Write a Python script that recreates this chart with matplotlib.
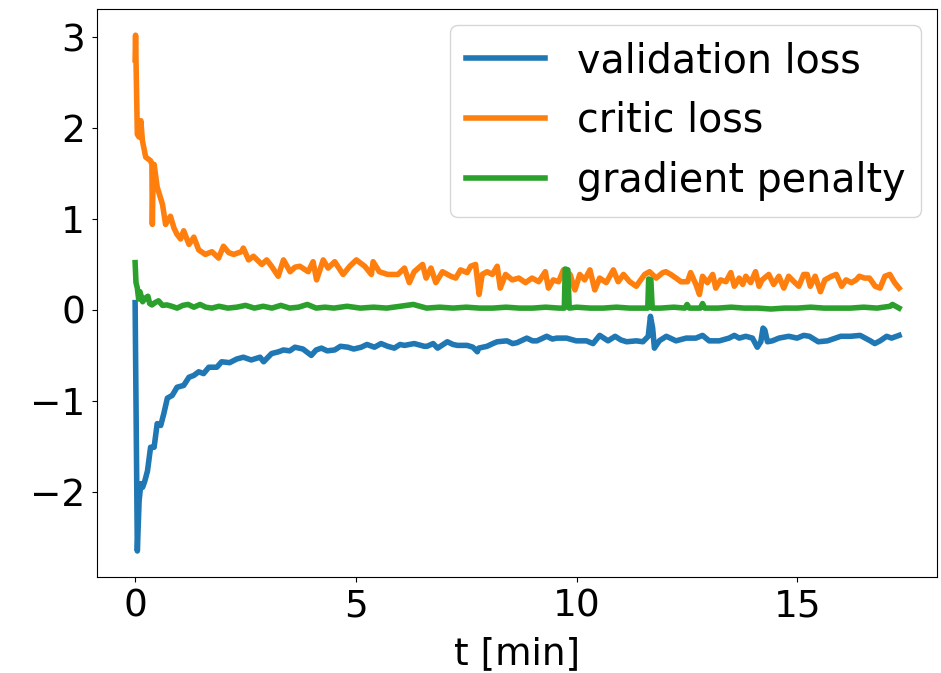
import numpy as np
import matplotlib
matplotlib.use('Agg')
import matplotlib.pyplot as plt

# validation loss
t_val = [0, 0.05, 0.09, 0.13, 0.17, 0.22, 0.28, 0.35, 0.43, 0.50, 0.58, 0.65, 0.73, 0.84, 0.95,
         1.10, 1.22, 1.33, 1.44, 1.55, 1.67, 1.85, 1.96, 2.14, 2.30, 2.45, 2.63, 2.83, 2.91, 3.09,
         3.25, 3.36, 3.50, 3.62, 3.80, 3.99, 4.10, 4.22, 4.35, 4.52, 4.65, 4.82, 4.95, 5.12, 5.25,
         5.42, 5.57, 5.72, 5.87, 6.00, 6.10, 6.32, 6.55, 6.61, 6.75, 6.85, 7.07, 7.20, 7.30, 7.52,
         7.65, 7.75, 7.78, 7.97, 8.10, 8.20, 8.42, 8.55, 8.65, 8.87, 9.00, 9.10, 9.32, 9.45, 9.55,
         9.77, 9.99, 10.22, 10.37, 10.52, 10.71, 10.87, 11.00, 11.13, 11.35, 11.50, 11.62, 11.67,
         11.72, 11.76, 11.87, 12.03, 12.25, 12.48, 12.70, 12.85, 13.00, 13.23, 13.45, 13.57, 13.68,
         13.83, 13.98, 14.09, 14.17, 14.22, 14.26, 14.32, 14.43, 14.58, 14.80, 14.99, 15.14, 15.27,
         15.47, 15.68, 15.98, 16.20, 16.42, 16.65, 16.75, 16.87, 17.02, 17.13, 17.30]
val_loss = [0.08, -2.65, -2.10, -1.91, -1.95, -1.88, -1.77, -1.51, -1.51, -1.25, -1.27, -1.14, -0.97,
            -0.94, -0.85, -0.83, -0.74, -0.72, -0.68, -0.70, -0.63, -0.63, -0.57, -0.58, -0.54, -0.52,
            -0.55, -0.52, -0.57, -0.48, -0.46, -0.44, -0.45, -0.41, -0.43, -0.50, -0.44, -0.42, -0.45,
            -0.44, -0.40, -0.41, -0.43, -0.41, -0.38, -0.41, -0.37, -0.40, -0.42, -0.38, -0.39, -0.37,
            -0.40, -0.40, -0.37, -0.42, -0.35, -0.38, -0.39, -0.39, -0.41, -0.46, -0.42, -0.40, -0.37,
            -0.35, -0.34, -0.37, -0.36, -0.31, -0.34, -0.34, -0.29, -0.32, -0.31, -0.31, -0.34, -0.34,
            -0.37, -0.28, -0.34, -0.29, -0.33, -0.35, -0.34, -0.35, -0.29, -0.07, -0.20, -0.42, -0.34,
            -0.29, -0.34, -0.31, -0.31, -0.28, -0.34, -0.34, -0.31, -0.28, -0.31, -0.29, -0.31, -0.41,
            -0.35, -0.20, -0.22, -0.35, -0.34, -0.31, -0.29, -0.31, -0.28, -0.29, -0.35, -0.34, -0.29,
            -0.29, -0.28, -0.34, -0.37, -0.34, -0.29, -0.31, -0.28]

# critic loss
t_crit = [0, 0.01, 0.05, 0.09, 0.13, 0.165, 0.24, 0.35, 0.38, 0.39, 0.41, 0.43, 0.50, 0.62, 0.69,
          0.80, 0.88, 0.95, 1.03, 1.10, 1.22, 1.33, 1.44, 1.59, 1.74, 1.89, 2.00, 2.12, 2.23, 2.41,
          2.45, 2.57, 2.68, 2.87, 2.98, 3.09, 3.24, 3.36, 3.51, 3.62, 3.73, 3.92, 4.03, 4.11, 4.26,
          4.37, 4.52, 4.71, 4.86, 5.01, 5.20, 5.35, 5.39, 5.53, 5.72, 5.95, 6.10, 6.21, 6.32, 6.51,
          6.59, 6.70, 6.81, 6.96, 7.15, 7.26, 7.37, 7.52, 7.60, 7.71, 7.79, 7.86, 7.97, 8.09, 8.20,
          8.27, 8.39, 8.54, 8.69, 8.84, 8.99, 9.14, 9.29, 9.36, 9.47, 9.59, 9.70, 9.85, 9.96, 10.07,
          10.18, 10.30, 10.41, 10.52, 10.67, 10.83, 10.94, 11.06, 11.20, 11.35, 11.42, 11.54, 11.65,
          11.80, 11.95, 12.02, 12.13, 12.25, 12.36, 12.51, 12.58, 12.70, 12.78, 12.85, 12.96, 13.08,
          13.15, 13.26, 13.38, 13.49, 13.57, 13.68, 13.76, 13.83, 13.94, 14.05, 14.13, 14.20, 14.35,
          14.46, 14.58, 14.69, 14.80, 14.92, 15.03, 15.14, 15.22, 15.29, 15.40, 15.52, 15.62, 15.77,
          15.88, 16.00, 16.10, 16.22, 16.33, 16.40, 16.52, 16.63, 16.76, 16.87, 16.98, 17.09, 17.20,
          17.30]
crit_loss = [2.75, 3.02, 1.93, 1.90, 2.08, 1.86, 1.68, 1.64, 1.60, 0.94, 1.55, 1.60, 1.35, 1.16, 0.94,
             1.03, 0.90, 0.83, 0.78, 0.87, 0.72, 0.80, 0.66, 0.61, 0.64, 0.57, 0.70, 0.63, 0.61, 0.64,
             0.68, 0.55, 0.59, 0.50, 0.55, 0.48, 0.37, 0.55, 0.42, 0.47, 0.48, 0.42, 0.53, 0.33, 0.55,
             0.46, 0.53, 0.39, 0.48, 0.55, 0.48, 0.39, 0.53, 0.42, 0.39, 0.39, 0.46, 0.30, 0.42, 0.50,
             0.35, 0.46, 0.30, 0.42, 0.37, 0.35, 0.44, 0.41, 0.48, 0.50, 0.17, 0.39, 0.42, 0.39, 0.48,
             0.24, 0.39, 0.33, 0.35, 0.30, 0.35, 0.31, 0.42, 0.24, 0.33, 0.31, 0.44, 0.39, 0.22, 0.39,
             0.33, 0.44, 0.22, 0.35, 0.30, 0.44, 0.31, 0.39, 0.31, 0.26, 0.31, 0.39, 0.42,
             0.35, 0.41, 0.42, 0.39, 0.35, 0.31, 0.31, 0.41, 0.28, 0.17, 0.37, 0.30, 0.39,
             0.24, 0.33, 0.31, 0.41, 0.26, 0.35, 0.28, 0.37, 0.30, 0.42, 0.26, 0.33, 0.39,
             0.28, 0.37, 0.24, 0.37, 0.31, 0.26, 0.39, 0.39, 0.26, 0.37, 0.20, 0.33, 0.37,
             0.39, 0.26, 0.33, 0.30, 0.33, 0.37, 0.35, 0.35, 0.26, 0.24, 0.37, 0.39, 0.30,
             0.24]

# gradient penalty
t_gp = [0, 0.02, 0.05, 0.08, 0.11, 0.17, 0.23, 0.29, 0.33, 0.38, 0.45, 0.53, 0.62, 0.72, 0.83, 0.95,
        1.08, 1.20, 1.33, 1.47, 1.60, 1.74, 1.90, 2.10, 2.30, 2.50, 2.70, 2.90, 3.10, 3.30, 3.50,
        3.70, 3.90, 4.10, 4.30, 4.50, 4.80, 5.10, 5.40, 5.70, 6.00, 6.30, 6.60, 6.90, 7.20, 7.50,
        7.80, 8.10, 8.40, 8.70, 9.00, 9.30, 9.60, 9.72, 9.74, 9.80, 9.83, 10.00, 10.30, 10.60, 10.90,
        11.20, 11.50, 11.61, 11.63, 11.68, 11.71, 11.90, 12.20, 12.45, 12.50, 12.55, 12.80, 12.85,
        12.90, 13.20, 13.50, 13.80, 14.10, 14.40, 14.70, 15.00, 15.30, 15.60, 15.90, 16.20, 16.50,
        16.80, 17.10, 17.15, 17.30]
grad_pen = [0.52, 0.30, 0.24, 0.12, 0.20, 0.09, 0.13, 0.15, 0.07, 0.055, 0.08, 0.10, 0.05, 0.055, 0.04,
            0.02, 0.05, 0.06, 0.03, 0.06, 0.03, 0.02, 0.04, 0.02, 0.03, 0.05, 0.02, 0.04, 0.02, 0.05,
            0.02, 0.03, 0.06, 0.02, 0.03, 0.02, 0.04, 0.02, 0.03, 0.02, 0.04, 0.06, 0.02, 0.03, 0.02,
            0.03, 0.02, 0.02, 0.03, 0.02, 0.02, 0.03, 0.02, 0.02, 0.45, 0.44, 0.02, 0.03, 0.02, 0.02,
            0.03, 0.02, 0.02, 0.02, 0.34, 0.33, 0.02, 0.02, 0.03, 0.02, 0.06, 0.02, 0.02, 0.07, 0.02,
            0.02, 0.03, 0.02, 0.02, 0.01, 0.02, 0.02, 0.03, 0.02, 0.02, 0.02, 0.03, 0.02, 0.04, 0.06,
            0.02]

fig = plt.figure(figsize=(9.41, 6.73), dpi=100)
ax = fig.add_axes([0.103, 0.143, 0.893, 0.843])

ax.plot(t_val, val_loss, lw=4, label='validation loss')
ax.plot(t_crit, crit_loss, lw=4, label='critic loss')
ax.plot(t_gp, grad_pen, lw=4, label='gradient penalty')

ax.set_xticks([0, 5, 10, 15])
ax.set_yticks([-2, -1, 0, 1, 2, 3])
ax.tick_params(labelsize=27, pad=5)
ax.set_xlabel('t [min]', fontsize=27, labelpad=8)
ax.legend(fontsize=28.5, loc='upper right', borderaxespad=0.4)

fig.savefig('out.png', dpi=100)
